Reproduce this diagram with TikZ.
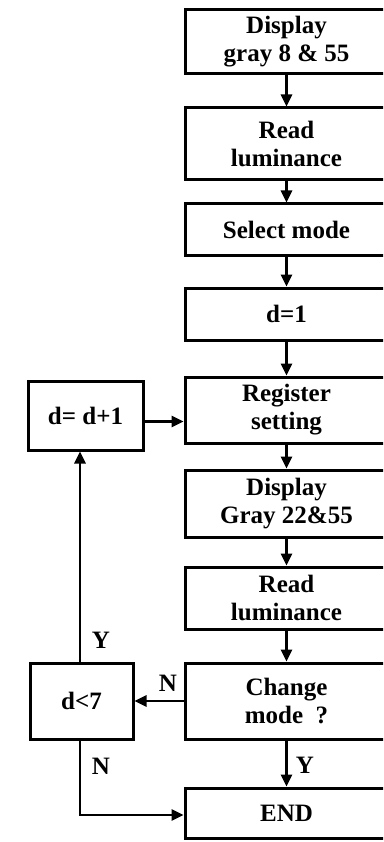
\documentclass[tikz,border=0pt]{standalone}
\usepackage{fontspec}
\setmainfont{Liberation Serif}
\usetikzlibrary{arrows.meta,calc}
\begin{document}
\begin{tikzpicture}[x=1pt,y=-1pt,
  box/.style={draw,line width=3pt,rectangle,inner sep=0pt,align=center,
    font=\fontsize{25}{28}\selectfont\bfseries},
  rbox/.style={box,minimum width=203pt},
  flow/.style={line width=2.6pt,-{Triangle[length=12pt,width=11pt]}},
  lab/.style={font=\fontsize{25}{28}\selectfont\bfseries}]
\path[use as bounding box,fill=white] (0,0) rectangle (383,842);
\clip (0,0) rectangle (383,842);

% main column
\node[rbox,minimum height=64pt] (disp1) at (286.5,42)  {Display\\gray 8 \& 55};
\node[rbox,minimum height=72pt] (read1) at (286.5,144) {Read\\luminance};
\node[rbox,minimum height=51pt] (mode)  at (286.5,229.5) {Select mode};
\node[rbox,minimum height=52pt] (dset)  at (286.5,314) {d=1};
\node[rbox,minimum height=66pt] (reg)   at (286.5,410) {Register\\setting};
\node[rbox,minimum height=67pt] (disp2) at (286.5,503.5) {Display\\Gray 22\&55};
\node[rbox,minimum height=62pt] (read2) at (286.5,598) {Read\\luminance};
\node[rbox,minimum height=76pt] (chg)   at (286.5,701) {Change\\mode\ \ ?};
\node[rbox,minimum height=50pt] (fin)   at (286.5,813) {END};

% loop column
\node[box,minimum width=115pt,minimum height=69pt] (inc) at (85.5,415.5) {d= d+1};
\node[box,minimum width=103pt,minimum height=76pt] (test) at (81.5,701) {d<7};

% connectors down the main column
\draw[flow] (disp1) -- (read1);
\draw[flow] (read1) -- (mode);
\draw[flow] (mode) -- (dset);
\draw[flow] (dset) -- (reg);
\draw[flow] (reg) -- (disp2);
\draw[flow] (disp2) -- (read2);
\draw[flow] (read2) -- (chg);
\draw[flow] (chg) -- (fin);

% loop connectors
\draw[flow] ($(inc.east)+(0,6)$) -- ($(inc.east -| reg.west)+(0,6)$);
\draw[flow] (chg.west) -- (test.east);
\draw[flow] (test.north -| 80,0) -- (inc.south -| 80,0);
\coordinate (turn) at (80,815);
\draw[flow] (test.south -| turn) -- (turn) -- (turn -| fin.west);

% branch labels
\node[lab] (ly1) at (101,640) {Y};
\node[lab] (ln1) at (168,683) {N};
\node[lab] (ln2) at (101,766) {N};
\node[lab] (ly2) at (305,765) {Y};
\end{tikzpicture}
\end{document}
